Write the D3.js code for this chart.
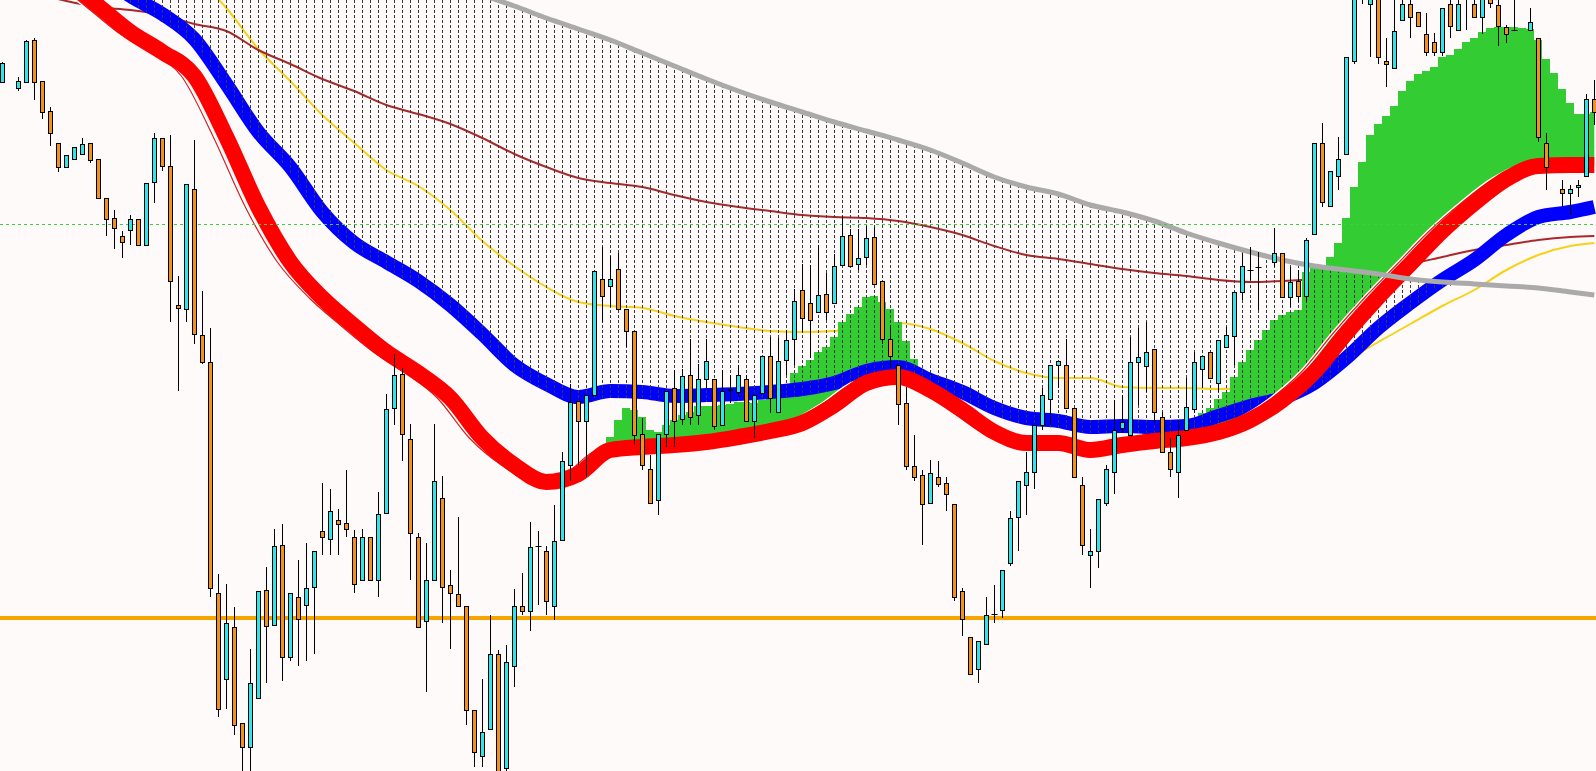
<!DOCTYPE html>
<html lang="en">
<head>
<meta charset="UTF-8">
<title>Candles with moving averages</title>
<script src="https://d3js.org/d3.v7.min.js"></script>
<style>
  html, body { margin: 0; padding: 0; background: #fffafa; overflow: hidden; }
  svg { display: block; }
</style>
</head>
<body>
<svg id="chart" width="1596" height="771"></svg>
<script>
// bars: [open, high, low, close]; null = empty slot
const candles = [
  [1.2918,1.2938,1.2917,1.2937], null, [1.2912,1.2923,1.2909,1.2919], [1.2918,1.2960,1.2918,1.2959],
  [1.2960,1.2962,1.2900,1.2918], [1.2919,1.2919,1.2881,1.2888], [1.2889,1.2893,1.2854,1.2867], [1.2857,1.2857,1.2828,1.2833],
  [1.2833,1.2845,1.2833,1.2845], [1.2841,1.2853,1.2841,1.2853], [1.2846,1.2862,1.2846,1.2856], [1.2857,1.2857,1.2837,1.2840],
  [1.2841,1.2841,1.2802,1.2802], [1.2802,1.2802,1.2764,1.2781], [1.2782,1.2790,1.2751,1.2772], [1.2764,1.2769,1.2742,1.2758],
  [1.2770,1.2785,1.2755,1.2781], [1.2781,1.2781,1.2755,1.2755], [1.2755,1.2817,1.2755,1.2817], [1.2818,1.2867,1.2797,1.2862],
  [1.2862,1.2862,1.2829,1.2834], [1.2834,1.2865,1.2678,1.2719], [1.2695,1.2724,1.2609,1.2692], [1.2691,1.2816,1.2678,1.2816],
  [1.2811,1.2860,1.2656,1.2666], [1.2665,1.2709,1.2636,1.2638], [1.2638,1.2672,1.2403,1.2412], [1.2407,1.2426,1.2283,1.2291],
  [1.2321,1.2416,1.2291,1.2377], [1.2373,1.2393,1.2265,1.2275], [1.2277,1.2277,1.2225,1.2253], [1.2253,1.2351,1.2225,1.2317],
  [1.2302,1.2409,1.2302,1.2409], [1.2410,1.2433,1.2317,1.2374], [1.2375,1.2471,1.2375,1.2454], [1.2455,1.2476,1.2319,1.2343],
  [1.2343,1.2407,1.2339,1.2407], [1.2403,1.2440,1.2334,1.2381], [1.2395,1.2457,1.2339,1.2412], [1.2413,1.2449,1.2346,1.2449],
  [1.2469,1.2517,1.2445,1.2463], [1.2461,1.2511,1.2445,1.2489], [1.2480,1.2491,1.2445,1.2476], [1.2477,1.2530,1.2463,1.2471],
  [1.2463,1.2470,1.2407,1.2416], [1.2420,1.2471,1.2420,1.2463], [1.2463,1.2463,1.2420,1.2420], [1.2420,1.2508,1.2403,1.2486],
  [1.2487,1.2606,1.2487,1.2591], [1.2592,1.2646,1.2575,1.2625], [1.2626,1.2632,1.2539,1.2566], [1.2561,1.2576,1.2420,1.2467],
  [1.2463,1.2467,1.2373,1.2373], [1.2379,1.2457,1.2308,1.2420], [1.2420,1.2576,1.2420,1.2519], [1.2502,1.2524,1.2377,1.2413],
  [1.2415,1.2430,1.2351,1.2407], [1.2406,1.2483,1.2394,1.2394], [1.2394,1.2394,1.2275,1.2290], [1.2290,1.2290,1.2233,1.2248],
  [1.2244,1.2321,1.2233,1.2268], [1.2271,1.2385,1.2271,1.2346], [1.2346,1.2350,1.2220,1.2228], [1.2232,1.2355,1.2225,1.2338],
  [1.2334,1.2411,1.2313,1.2394], [1.2394,1.2427,1.2385,1.2389], [1.2389,1.2478,1.2369,1.2453], [1.2454,1.2469,1.2395,1.2454],
  [1.2449,1.2454,1.2385,1.2399], [1.2394,1.2495,1.2380,1.2459], [1.2460,1.2548,1.2460,1.2539], [1.2535,1.2616,1.2519,1.2598],
  [1.2599,1.2599,1.2535,1.2579], [1.2579,1.2605,1.2523,1.2605], [1.2605,1.2729,1.2605,1.2729], [1.2721,1.2753,1.2678,1.2704],
  [1.2714,1.2744,1.2693,1.2721], [1.2731,1.2747,1.2691,1.2691], [1.2691,1.2691,1.2653,1.2669], [1.2669,1.2669,1.2555,1.2565],
  [1.2566,1.2582,1.2530,1.2535], [1.2531,1.2545,1.2497,1.2497], [1.2500,1.2566,1.2485,1.2566], [1.2566,1.2609,1.2553,1.2609],
  [1.2612,1.2630,1.2553,1.2579], [1.2581,1.2631,1.2575,1.2624], [1.2625,1.2661,1.2575,1.2583], [1.2585,1.2636,1.2575,1.2621],
  [1.2621,1.2661,1.2612,1.2639], [1.2621,1.2621,1.2570,1.2574], [1.2575,1.2630,1.2575,1.2609], [1.2611,1.2625,1.2597,1.2610],
  [1.2608,1.2635,1.2603,1.2625], [1.2621,1.2625,1.2579,1.2579], [1.2579,1.2605,1.2562,1.2605], [1.2607,1.2644,1.2607,1.2644],
  [1.2644,1.2663,1.2587,1.2602], [1.2588,1.2662,1.2588,1.2639], [1.2640,1.2670,1.2625,1.2660], [1.2661,1.2711,1.2635,1.2699],
  [1.2710,1.2736,1.2668,1.2682], [1.2697,1.2735,1.2642,1.2680], [1.2688,1.2755,1.2688,1.2705], [1.2706,1.2727,1.2680,1.2688],
  [1.2697,1.2746,1.2697,1.2734], [1.2735,1.2784,1.2735,1.2764], [1.2765,1.2771,1.2734,1.2734], [1.2736,1.2771,1.2730,1.2742],
  [1.2743,1.2774,1.2735,1.2762], [1.2763,1.2773,1.2716,1.2716], [1.2719,1.2719,1.2656,1.2661], [1.2661,1.2675,1.2632,1.2644],
  [1.2635,1.2635,1.2575,1.2596], [1.2597,1.2613,1.2530,1.2534], [1.2534,1.2565,1.2519,1.2523], [1.2525,1.2530,1.2455,1.2496],
  [1.2497,1.2540,1.2497,1.2527], [1.2523,1.2539,1.2513,1.2516], [1.2517,1.2523,1.2489,1.2506], [1.2496,1.2496,1.2399,1.2403],
  [1.2409,1.2412,1.2364,1.2381], [1.2363,1.2363,1.2326,1.2326], [1.2331,1.2359,1.2317,1.2359], [1.2356,1.2403,1.2356,1.2385],
  [1.2386,1.2415,1.2377,1.2386], [1.2390,1.2430,1.2382,1.2430], [1.2437,1.2489,1.2434,1.2482], [1.2483,1.2519,1.2449,1.2519],
  [1.2515,1.2548,1.2485,1.2528], [1.2528,1.2575,1.2511,1.2575], [1.2575,1.2612,1.2570,1.2605], [1.2601,1.2635,1.2575,1.2635],
  [1.2635,1.2639,1.2612,1.2639], [1.2635,1.2661,1.2592,1.2592], [1.2592,1.2592,1.2523,1.2523], [1.2515,1.2523,1.2445,1.2455],
  [1.2445,1.2471,1.2412,1.2449], [1.2449,1.2501,1.2432,1.2501], [1.2497,1.2535,1.2494,1.2531], [1.2528,1.2600,1.2506,1.2570],
  [1.2572,1.2605,1.2567,1.2578], [1.2565,1.2663,1.2565,1.2638], [1.2638,1.2672,1.2595,1.2643], [1.2634,1.2678,1.2608,1.2648],
  [1.2651,1.2651,1.2577,1.2588], [1.2583,1.2588,1.2548,1.2548], [1.2548,1.2562,1.2523,1.2531], [1.2528,1.2580,1.2502,1.2565],
  [1.2570,1.2622,1.2570,1.2593], [1.2591,1.2648,1.2587,1.2638], [1.2631,1.2644,1.2612,1.2644], [1.2648,1.2648,1.2622,1.2622],
  [1.2617,1.2660,1.2608,1.2660], [1.2653,1.2673,1.2653,1.2665], [1.2664,1.2708,1.2635,1.2708], [1.2708,1.2747,1.2700,1.2734],
  [1.2730,1.2753,1.2720,1.2730], [1.2733,1.2748,1.2690,1.2733], null, [1.2738,1.2772,1.2733,1.2747],
  [1.2747,1.2747,1.2703,1.2703], [1.2703,1.2733,1.2693,1.2718], [1.2719,1.2730,1.2698,1.2704], [1.2704,1.2762,1.2698,1.2760],
  [1.2766,1.2857,1.2766,1.2857], [1.2857,1.2877,1.2793,1.2798], [1.2794,1.2829,1.2794,1.2829], [1.2824,1.2863,1.2810,1.2841],
  [1.2846,1.2943,1.2846,1.2943], [1.2939,1.3008,1.2936,1.3005], [1.3025,1.3040,1.2996,1.3010], [1.2996,1.3020,1.2943,1.3015],
  [1.3010,1.3015,1.2936,1.2943], [1.2939,1.2962,1.2913,1.2936], [1.2932,1.3005,1.2932,1.2969], [1.2980,1.3005,1.2980,1.2996],
  [1.2996,1.3003,1.2962,1.2983], [1.2988,1.2988,1.2974,1.2974], [1.2966,1.2987,1.2944,1.2948], [1.2958,1.2967,1.2944,1.2948],
  [1.2948,1.2992,1.2944,1.2992], [1.2996,1.3003,1.2962,1.2974], [1.2970,1.3003,1.2970,1.2996], [1.3012,1.3015,1.2970,1.3004],
  [1.2996,1.3003,1.2983,1.2983], [1.2983,1.3006,1.2966,1.3003], [1.3005,1.3008,1.2992,1.2997], [1.2995,1.3003,1.2954,1.2974],
  [1.2973,1.2975,1.2957,1.2966], [1.2970,1.3005,1.2970,1.2970], null, [1.2970,1.2992,1.2970,1.2978],
  [1.2962,1.2962,1.2858,1.2863], [1.2857,1.2867,1.2810,1.2833], null, [1.2811,1.2820,1.2793,1.2807],
  [1.2807,1.2815,1.2785,1.2811], [1.2813,1.2820,1.2803,1.2815], [1.2824,1.2906,1.2824,1.2901], [1.2901,1.2920,1.2875,1.2888]
];

// indicator lines, read every 4th bar plus the last one
const maBars = d3.range(0, 200, 4).concat([199]);
const grayMA = [
  1.3170, 1.3159, 1.3148, 1.3137, 1.3126, 1.3115, 1.3104, 1.3093, 1.3082, 1.3071,
  1.3060, 1.3049, 1.3038, 1.3027, 1.3016, 1.3005, 1.2994, 1.2982, 1.2971, 1.2960,
  1.2947, 1.2934, 1.2921, 1.2909, 1.2898, 1.2888, 1.2878, 1.2869, 1.2860, 1.2850,
  1.2837, 1.2823, 1.2813, 1.2806, 1.2795, 1.2788, 1.2779, 1.2767, 1.2757, 1.2748,
  1.2740, 1.2734, 1.2730, 1.2726, 1.2721, 1.2718, 1.2716, 1.2714, 1.2712, 1.2708,
  1.2705
];
const blueMA = [
  1.3094, 1.3072, 1.3050, 1.3028, 1.3004, 1.2986, 1.2961, 1.2916, 1.2868, 1.2833,
  1.2788, 1.2757, 1.2738, 1.2719, 1.2695, 1.2666, 1.2635, 1.2616, 1.2603, 1.2609,
  1.2608, 1.2604, 1.2605, 1.2606, 1.2608, 1.2611, 1.2617, 1.2629, 1.2633, 1.2620,
  1.2608, 1.2592, 1.2582, 1.2579, 1.2573, 1.2574, 1.2573, 1.2574, 1.2584, 1.2594,
  1.2602, 1.2617, 1.2642, 1.2672, 1.2697, 1.2720, 1.2740, 1.2765, 1.2783, 1.2788,
  1.2793
];
const redMA = [
  1.3070, 1.3045, 1.3020, 1.2994, 1.2968, 1.2948, 1.2924, 1.2863, 1.2793, 1.2738,
  1.2702, 1.2674, 1.2648, 1.2627, 1.2602, 1.2562, 1.2535, 1.2518, 1.2526, 1.2550,
  1.2553, 1.2555, 1.2558, 1.2563, 1.2569, 1.2577, 1.2595, 1.2617, 1.2623, 1.2610,
  1.2590, 1.2568, 1.2557, 1.2557, 1.2550, 1.2555, 1.2559, 1.2562, 1.2568, 1.2580,
  1.2600, 1.2628, 1.2667, 1.2703, 1.2736, 1.2769, 1.2797, 1.2821, 1.2834, 1.2835,
  1.2835
];
const yellowMA = [
  1.3235, 1.3200, 1.3165, 1.3130, 1.3095, 1.3060, 1.3025, 1.2992, 1.2951, 1.2919,
  1.2885, 1.2857, 1.2830, 1.2814, 1.2790, 1.2759, 1.2734, 1.2713, 1.2698, 1.2694,
  1.2692, 1.2684, 1.2678, 1.2673, 1.2669, 1.2668, 1.2669, 1.2674, 1.2677, 1.2671,
  1.2657, 1.2639, 1.2627, 1.2622, 1.2622, 1.2613, 1.2612, 1.2612, 1.2611, 1.2612,
  1.2616, 1.2626, 1.2640, 1.2658, 1.2676, 1.2694, 1.2710, 1.2730, 1.2745, 1.2754,
  1.2757
];
const brownMA = [
  1.3016, 1.3007, 1.2999, 1.2993, 1.2990, 1.2985, 1.2976, 1.2969, 1.2950, 1.2936,
  1.2921, 1.2909, 1.2895, 1.2886, 1.2876, 1.2862, 1.2846, 1.2833, 1.2822, 1.2817,
  1.2813, 1.2805, 1.2798, 1.2793, 1.2789, 1.2785, 1.2783, 1.2782, 1.2779, 1.2773,
  1.2765, 1.2754, 1.2745, 1.2741, 1.2736, 1.2731, 1.2727, 1.2724, 1.2720, 1.2718,
  1.2719, 1.2721, 1.2725, 1.2730, 1.2736, 1.2743, 1.2750, 1.2755, 1.2760, 1.2763,
  1.2764
];

// green histogram tops (bottom is the red line)
const greenStartA = 76;
const greenTopA = [
  1.2563, 1.2580, 1.2592, 1.2590, 1.2583, 1.2570, 1.2568, 1.2575, 1.2580, 1.2585,
  1.2588, 1.2594, 1.2594, 1.2594, 1.2595, 1.2596, 1.2598, 1.2598, 1.2597, 1.2600,
  1.2603, 1.2603, 1.2605, 1.2627, 1.2634, 1.2640, 1.2648, 1.2653, 1.2663, 1.2678,
  1.2686, 1.2693, 1.2703, 1.2704, 1.2698, 1.2691, 1.2678, 1.2659, 1.2641, 1.2620
];
const greenStartB = 143;
const greenTopB = [
  1.2572, 1.2572, 1.2571, 1.2571, 1.2572, 1.2574, 1.2577, 1.2587, 1.2592, 1.2601,
  1.2608, 1.2623, 1.2638, 1.2650, 1.2660, 1.2670, 1.2680, 1.2685, 1.2688, 1.2690,
  1.2728, 1.2732, 1.2734, 1.2743, 1.2757, 1.2782, 1.2813, 1.2838, 1.2865, 1.2876,
  1.2884, 1.2894, 1.2909, 1.2919, 1.2926, 1.2929, 1.2933, 1.2943, 1.2945, 1.2951,
  1.2958, 1.2962, 1.2968, 1.2972, 1.2973, 1.2973, 1.2973, 1.2972, 1.2971, 1.2960,
  1.2941, 1.2927, 1.2911, 1.2897, 1.2886, 1.2886, 1.2888
];

// horizontal levels
const levelGreen = 1.2776;
const levelOrange = 1.2382;

const W = 1596, H = 771;
const BULL = "#2ee5ea", BEAR = "#f2911b";

const svg = d3.select("#chart");
const x = d3.scaleLinear().domain([0, 199]).range([2.3, 1594.3]);
const y = d3.scaleLinear().domain([1.2229, 1.3000]).range([H, 0]);

svg.append("rect").attr("width", W).attr("height", H).attr("fill", "#fffafa");

const maPoints = vals => maBars.map((b, k) => [x(b), y(vals[k])]);
const smooth = d3.line().curve(d3.curveMonotoneX);

function drawLine(vals, color, width) {
    return svg.append("path")
        .attr("d", smooth(maPoints(vals)))
        .attr("fill", "none")
        .attr("stroke", color)
        .attr("stroke-width", width)
        .attr("stroke-linejoin", "round");
}

// clip regions
const defs = svg.append("defs");
const idx = maBars.map((b, k) => k);

defs.append("clipPath").attr("id", "aboveRed").append("path")
    .attr("d", d3.area().curve(d3.curveMonotoneX)
        .x(k => x(maBars[k]))
        .y0(0)
        .y1(k => y(redMA[k]))(idx));

// dotted fill between gray and blue (only where gray is above)
defs.append("clipPath").attr("id", "grayBlue").append("path")
    .attr("d", d3.area().curve(d3.curveMonotoneX)
        .x(k => x(maBars[k]))
        .y0(k => y(grayMA[k]))
        .y1(k => Math.max(y(grayMA[k]), y(blueMA[k]) + 7))(idx));

// thin averages
drawLine(yellowMA, "#f7d117", 2);
drawLine(brownMA, "#a8292b", 2);

// green histogram
const greenBars = greenTopA.map((v, j) => ({ i: greenStartA + j, v }))
    .concat(greenTopB.map((v, j) => ({ i: greenStartB + j, v })));
svg.append("g").attr("clip-path", "url(#aboveRed)")
    .selectAll("rect").data(greenBars).join("rect")
    .attr("x", d => Math.round(x(d.i) - 4))
    .attr("width", 8)
    .attr("y", d => y(d.v))
    .attr("height", d => H - y(d.v))
    .attr("fill", "#33cc33");

// blue band
drawLine(blueMA, "#0000ff", 14);

// vertical dashes
svg.append("g").attr("clip-path", "url(#grayBlue)")
    .selectAll("line").data(d3.range(candles.length)).join("line")
    .attr("x1", i => Math.floor(x(i)) + 0.5)
    .attr("x2", i => Math.floor(x(i)) + 0.5)
    .attr("y1", 0).attr("y2", H)
    .attr("stroke", "#3a3a3a")
    .attr("stroke-width", 1)
    .attr("stroke-dasharray", "3,2");

// red band with its thin leading edge
drawLine(redMA, "#ffffff", 4).attr("transform", "translate(-13,0)");
drawLine(redMA, "#d81e1e", 1.2).attr("transform", "translate(-13,0)");
drawLine(redMA, "#ff0000", 16);

// slow gray average
drawLine(grayMA, "#aaaaaa", 5);

// levels
svg.append("line")
    .attr("x1", 0).attr("x2", W)
    .attr("y1", Math.round(y(levelGreen)) + 0.5).attr("y2", Math.round(y(levelGreen)) + 0.5)
    .attr("stroke", "#3ecf3e").attr("stroke-dasharray", "3,3");
svg.append("line")
    .attr("x1", 0).attr("x2", W)
    .attr("y1", y(levelOrange)).attr("y2", y(levelOrange))
    .attr("stroke", "#f6a500").attr("stroke-width", 4);

// candles
const bars = candles.map((c, i) => c ? { i, o: c[0], h: c[1], l: c[2], c: c[3] } : null)
    .filter(d => d);
const gC = svg.append("g");
const cx = d => Math.floor(x(d.i)) + 0.5;

gC.selectAll("line.wick").data(bars).join("line")
    .attr("class", "wick")
    .attr("x1", cx).attr("x2", cx)
    .attr("y1", d => y(d.h)).attr("y2", d => y(d.l))
    .attr("stroke", "#000");

gC.selectAll("rect.body").data(bars.filter(d => d.o !== d.c)).join("rect")
    .attr("class", "body")
    .attr("x", d => cx(d) - 2)
    .attr("y", d => Math.round(y(Math.max(d.o, d.c))) + 0.5)
    .attr("width", 4)
    .attr("height", d => Math.max(1, Math.round(y(Math.min(d.o, d.c)) - y(Math.max(d.o, d.c)))))
    .attr("fill", d => d.c > d.o ? BULL : BEAR)
    .attr("stroke", "#000");

gC.selectAll("line.doji").data(bars.filter(d => d.o === d.c)).join("line")
    .attr("class", "doji")
    .attr("x1", d => cx(d) - 3).attr("x2", d => cx(d) + 3)
    .attr("y1", d => Math.round(y(d.o)) + 0.5).attr("y2", d => Math.round(y(d.o)) + 0.5)
    .attr("stroke", "#000");
</script>
</body>
</html>
